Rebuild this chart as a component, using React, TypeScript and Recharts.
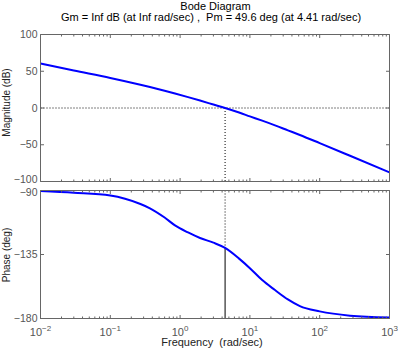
import React from 'react';
import { LineChart, Line, XAxis, YAxis, ReferenceLine } from 'recharts';

// frequency in rad/sec
const freq = [0.01, 0.03, 0.1, 0.27, 0.37, 0.6, 0.845, 1.3, 1.93, 3, 4.41, 7, 10, 15, 22.9, 35, 52, 100, 272, 1000];
const magnitude = [60.5, 51, 40.9, 31.7, 28.6, 23.5, 19.7, 14.8, 10.1, 4.7, 0, -6.2, -11.4, -17.2, -23.6, -30.4, -36.7, -47.8, -65, -87.5];
const phase = [-90.4, -91.6, -93.5, -99.5, -102.5, -109, -114.5, -119.5, -123.4, -126.7, -130.4, -137.9, -144.6, -153, -160, -166.6, -171.3, -175, -178, -179.3];

// margins
const crossFreq = 4.41;
const phaseAtCross = -130.4;

// axes
const freqMajor = [0.01, 0.1, 1, 10, 100, 1000];
const freqExpLabels = ['\u22122', '\u22121', '0', '1', '2', '3'];
const magTicks = [-100, -50, 0, 50, 100];
const magTickLabels = ['\u2212100', '\u221250', '0', '50', '100'];
const phaseTicks = [-180, -135, -90];
const phaseTickLabels = ['\u2212180', '\u2212135', '\u221290'];

const freqMinor: number[] = [];
freqMajor.slice(0, -1).forEach(d => {
  for (let k = 2; k <= 9; k++) freqMinor.push(d * k);
});
const freqTicks = [...freqMajor, ...freqMinor].sort((a, b) => a - b);

const data = freq.map((f, i) => ({ f, mag: magnitude[i], phase: phase[i] }));

const AXIS = '#666';
const LABEL = '#555';
const FONT = '"Liberation Sans", Arial, Helvetica, sans-serif';

const majorIndex = (v: number) => freqMajor.findIndex(m => Math.abs(m - v) / m < 1e-6);

const XTick = (props: any) => {
  const { x, y, payload, side, label } = props;
  const idx = majorIndex(payload.value);
  const len = idx >= 0 ? 3.5 : 2;
  const dir = side === 'top' ? 1 : -1;
  return (
    <g>
      <line x1={x} y1={y} x2={x} y2={y + dir * len} stroke={AXIS} />
      {label && idx >= 0 && (
        <text x={x} y={y + 17} textAnchor="middle" fill={LABEL} fontSize={11} fontFamily={FONT}>
          <tspan>10</tspan>
          <tspan dy={-5} fontSize={8}>{freqExpLabels[idx]}</tspan>
        </text>
      )}
    </g>
  );
};

const YTick = (props: any) => {
  const { x, y, payload, side, labels, ticks, nudge } = props;
  const dir = side === 'right' ? -1 : 1;
  const idx = ticks ? ticks.indexOf(payload.value) : -1;
  // the -100 / -90 labels sit almost on top of each other, pull them apart a little
  const shift = nudge ? nudge(payload.value) : 0;
  return (
    <g>
      <line x1={x} y1={y} x2={x + dir * 3.5} y2={y} stroke={AXIS} />
      {labels && idx >= 0 && (
        <text x={x - 3} y={y + shift} dy="0.35em" textAnchor="end" fill={LABEL} fontSize={10.5} fontFamily={FONT}>
          {labels[idx]}
        </text>
      )}
    </g>
  );
};

const xAxes = (showLabels: boolean) => [
  <XAxis
    key="xb"
    dataKey="f"
    type="number"
    scale="log"
    domain={[0.01, 1000]}
    allowDataOverflow
    ticks={freqTicks}
    interval={0}
    height={1}
    tickSize={0}
    tickMargin={0}
    tickLine={false}
    axisLine={{ stroke: AXIS }}
    tick={(p: any) => <XTick {...p} side="bottom" label={showLabels} />}
  />,
  <XAxis
    key="xt"
    xAxisId="top"
    orientation="top"
    dataKey="f"
    type="number"
    scale="log"
    domain={[0.01, 1000]}
    allowDataOverflow
    ticks={freqTicks}
    interval={0}
    height={1}
    tickSize={0}
    tickMargin={0}
    tickLine={false}
    axisLine={{ stroke: AXIS }}
    tick={(p: any) => <XTick {...p} side="top" />}
  />,
];

const yAxes = (domain: number[], ticks: number[], labels: string[], nudge: (v: number) => number) => [
  <YAxis
    key="yl"
    type="number"
    domain={domain}
    allowDataOverflow
    ticks={ticks}
    interval={0}
    width={1}
    tickSize={0}
    tickMargin={0}
    tickLine={false}
    axisLine={{ stroke: AXIS }}
    tick={(p: any) => <YTick {...p} side="left" labels={labels} ticks={ticks} nudge={nudge} />}
  />,
  <YAxis
    key="yr"
    yAxisId="right"
    orientation="right"
    type="number"
    domain={domain}
    allowDataOverflow
    ticks={ticks}
    interval={0}
    width={1}
    tickSize={0}
    tickMargin={0}
    tickLine={false}
    axisLine={{ stroke: AXIS }}
    tick={(p: any) => <YTick {...p} side="right" />}
  />,
];

export default function App() {
  return (
    <div style={{ position: 'absolute', left: 0, top: 0, width: 398, height: 350, background: '#fff' }}>
      <div style={{ position: 'absolute', left: 0, top: 0 }}>
        <LineChart width={398} height={190} data={data} margin={{ top: 33.5, right: 7.5, bottom: 7.5, left: 39.5 }}>
          {xAxes(false)}
          {yAxes([-100, 100], magTicks, magTickLabels, v => (v === -100 ? -2 : 0))}
          <ReferenceLine y={0} stroke="#000" strokeDasharray="1 2" />
          <ReferenceLine
            segment={[{ x: crossFreq, y: 0 }, { x: crossFreq, y: -100 }]}
            stroke="#000"
            strokeDasharray="1 2"
          />
          <Line dataKey="mag" type="monotone" stroke="#0000ff" strokeWidth={2} dot={false} isAnimationActive={false} />
        </LineChart>
      </div>
      <div style={{ position: 'absolute', left: 0, top: 185 }}>
        <LineChart width={398} height={165} data={data} margin={{ top: 4.5, right: 7.5, bottom: 30.5, left: 39.5 }}>
          {xAxes(true)}
          {yAxes([-180, -90], phaseTicks, phaseTickLabels, v => (v === -90 ? 2 : 0))}
          <ReferenceLine y={-180} stroke="#000" strokeDasharray="1 2" />
          <ReferenceLine
            segment={[{ x: crossFreq, y: -90 }, { x: crossFreq, y: phaseAtCross }]}
            stroke="#000"
            strokeDasharray="1 2"
          />
          <ReferenceLine
            segment={[{ x: crossFreq, y: phaseAtCross }, { x: crossFreq, y: -180 }]}
            stroke="#000"
          />
          <Line dataKey="phase" type="monotone" stroke="#0000ff" strokeWidth={2} dot={false} isAnimationActive={false} />
        </LineChart>
      </div>
      <svg width={398} height={350} style={{ position: 'absolute', left: 0, top: 0, pointerEvents: 'none' }} fontFamily={FONT}>
        <text x={215.5} y={9.5} textAnchor="middle" fontSize={11} fill="#000">Bode Diagram</text>
        <text x={211} y={21} textAnchor="middle" fontSize={11} fill="#000" style={{ whiteSpace: 'pre' }}>
          Gm = Inf dB (at Inf rad/sec) ,  Pm = 49.6 deg (at 4.41 rad/sec)
        </text>
        <text transform="translate(9.5,102.5) rotate(-90)" textAnchor="middle" fontSize={10} fill="#222">Magnitude (dB)</text>
        <text transform="translate(9.5,255) rotate(-90)" textAnchor="middle" fontSize={10} fill="#222">Phase (deg)</text>
        <text x={212} y={346} textAnchor="middle" fontSize={11} fill="#222" style={{ whiteSpace: 'pre' }}>Frequency  (rad/sec)</text>
      </svg>
    </div>
  );
}
